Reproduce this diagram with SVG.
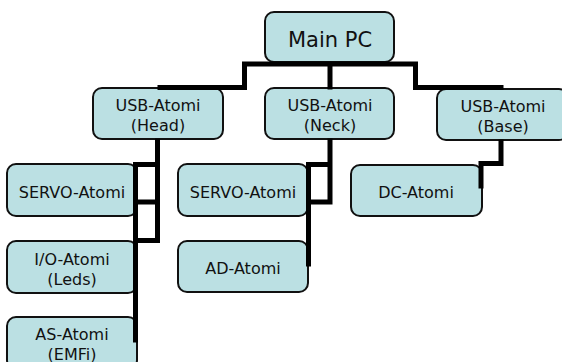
<svg xmlns="http://www.w3.org/2000/svg" width="562" height="362" viewBox="0 0 562 362">
<style>
.box{fill:#BBE0E3;stroke:#111;stroke-width:2}
.t{font-family:"DejaVu Sans",Verdana,sans-serif;font-size:16px;fill:#111;text-anchor:middle}
.big{font-size:21px}
.c{fill:none;stroke:#000;stroke-width:5;stroke-linecap:square;stroke-linejoin:miter}
</style>
<rect width="562" height="362" fill="#fff"/>
<g id="main-pc"><rect class="box" x="265" y="12" width="129" height="50" rx="9"/><text class="t big" x="330" y="47">Main PC</text></g>
<g id="usb-head"><rect class="box" x="93" y="88" width="130" height="51" rx="9"/><text class="t" x="158" y="111">USB-Atomi</text><text class="t" x="158" y="131">(Head)</text></g>
<g id="usb-neck"><rect class="box" x="265" y="88" width="129" height="51" rx="9"/><text class="t" x="330" y="111">USB-Atomi</text><text class="t" x="330" y="131">(Neck)</text></g>
<g id="usb-base"><rect class="box" x="437" y="89" width="131" height="51" rx="9"/><text class="t" x="503" y="112">USB-Atomi</text><text class="t" x="503" y="132">(Base)</text></g>
<g id="servo-head"><rect class="box" x="7" y="164" width="130" height="52" rx="9"/><text class="t" x="72" y="198">SERVO-Atomi</text></g>
<g id="io-atomi"><rect class="box" x="7" y="241" width="130" height="52" rx="9"/><text class="t" x="72" y="265">I/O-Atomi</text><text class="t" x="72" y="285">(Leds)</text></g>
<g id="as-atomi"><rect class="box" x="7" y="317" width="130" height="52" rx="9"/><text class="t" x="72" y="340">AS-Atomi</text><text class="t" x="72" y="360">(EMFi)</text></g>
<g id="servo-neck"><rect class="box" x="178" y="164" width="130" height="52" rx="9"/><text class="t" x="243" y="198">SERVO-Atomi</text></g>
<g id="ad-atomi"><rect class="box" x="178" y="241" width="130" height="51" rx="9"/><text class="t" x="243" y="274">AD-Atomi</text></g>
<g id="dc-atomi"><rect class="box" x="351" y="165" width="131" height="51" rx="9"/><text class="t" x="416" y="198">DC-Atomi</text></g>
<g id="connectors">
<path class="c" d="M244.5 64 H415.5 M244.5 64 V87.5 H160 M330 64 V87 M415.5 64 V87.5 H501"/>
<path class="c" d="M157.5 141 V240.5 M136 164.5 H157.5 M136 202 H157.5 M136 240.5 H157.5 M135.5 164.5 V340"/>
<path class="c" d="M330 141 V202 M309 164.5 H330 M309 202 H330 M308.5 164.5 V264"/>
<path class="c" d="M501 142 V163.5 H481 V186"/>
</g>
</svg>
